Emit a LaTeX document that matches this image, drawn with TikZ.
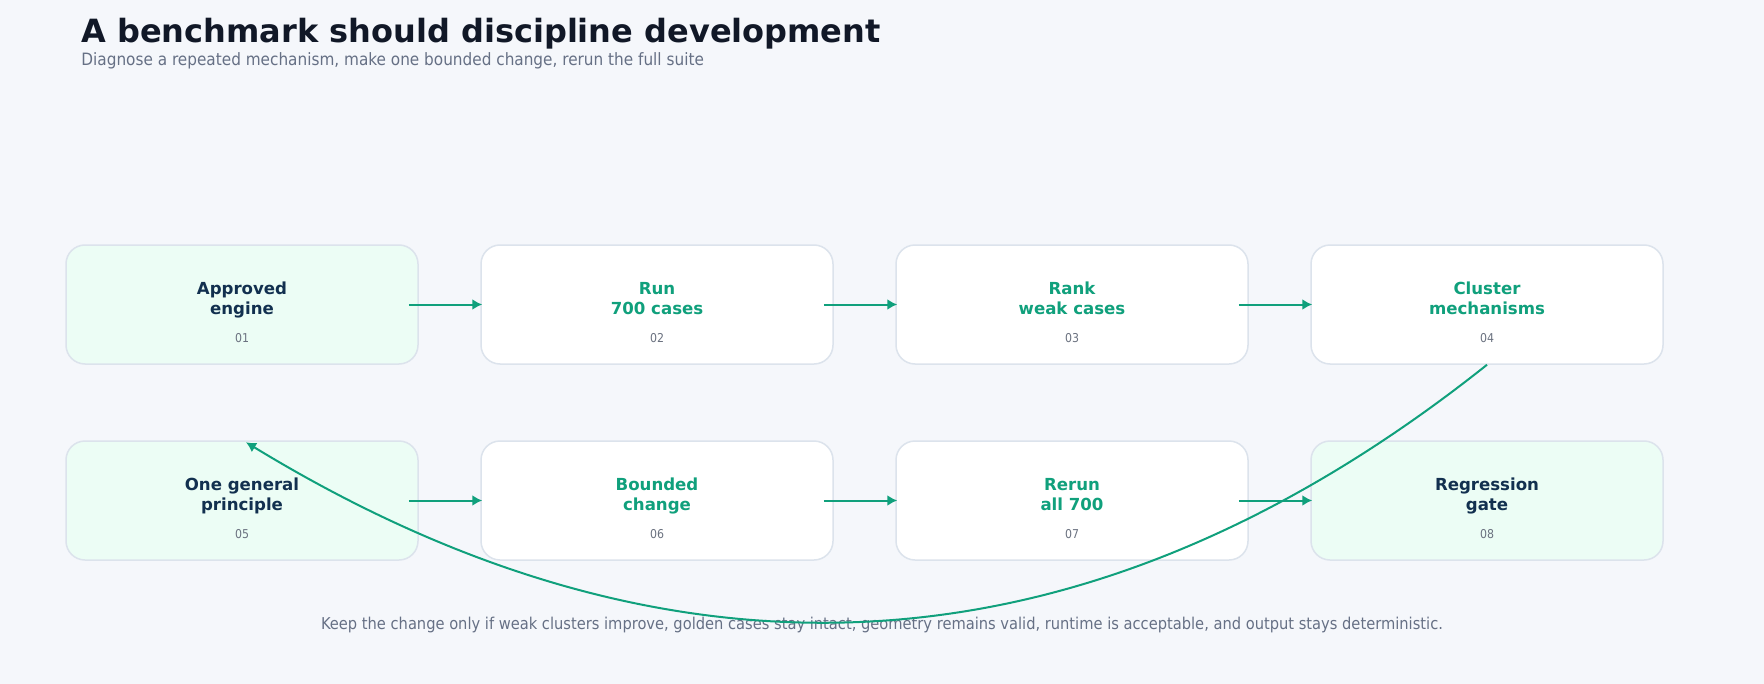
\documentclass[tikz,border=0pt]{standalone}
\usepackage{fontspec}
\setmainfont{DejaVu Sans}
\newfontfamily\condfont{DejaVu Sans Condensed}
\usetikzlibrary{arrows.meta,calc}
\definecolor{bgc}{HTML}{F5F7FB}
\definecolor{bordc}{HTML}{DCE3EC}
\definecolor{mintc}{HTML}{ECFDF5}
\definecolor{greenc}{HTML}{10A07C}
\definecolor{navyc}{HTML}{12304F}
\definecolor{titlec}{HTML}{111827}
\definecolor{subc}{HTML}{667085}
\definecolor{numc}{HTML}{6B7280}
\tikzset{
  stepbox/.style={draw=bordc, line width=0.75pt, rounded corners=9.5pt, minimum width=176pt, minimum height=59.5pt, inner sep=0pt},
  plainbox/.style={stepbox, fill=white},
  mintbox/.style={stepbox, fill=mintc},
  lbl/.style={anchor=base, inner sep=0pt, font=\fontsize{8.3}{10}\selectfont\bfseries},
  numlbl/.style={anchor=base, inner sep=0pt, font=\condfont\fontsize{6.1}{7}\selectfont, text=numc},
  arr/.style={draw=greenc, line width=1pt, -{Latex[length=5pt,width=5.5pt]}},
}
\newcommand{\mkstep}[8]{%
  \node[#7] (#1) at (#2,#3) {};
  \node[lbl, text=#8] (#1a) at ($(#1.center)+(0,-10)$) {#4};
  \node[lbl, text=#8] (#1b) at ($(#1.center)+(0,9.5)$) {#5};
  \node[numlbl] (#1n) at ($(#1.center)+(0,37.5)$) {#6};
}
\begin{document}
\begin{tikzpicture}[x=0.5pt,y=-0.5pt]
\fill[bgc] (0,0) rectangle (1764,684);
\useasboundingbox (0,0) rectangle (1764,684);
\node[anchor=base west, inner sep=0pt, text=titlec, font=\fontsize{16}{19}\selectfont\bfseries] (title) at (81,43) {A benchmark should discipline development};
\node[anchor=base west, inner sep=0pt, text=subc, font=\condfont\fontsize{8.5}{10}\selectfont] (subtitle) at (81,66) {Diagnose a repeated mechanism, make one bounded change, rerun the full suite};
\mkstep{s1}{242}{304.5}{Approved}{engine}{01}{mintbox}{navyc}
\mkstep{s2}{657}{304.5}{Run}{700 cases}{02}{plainbox}{greenc}
\mkstep{s3}{1072}{304.5}{Rank}{weak cases}{03}{plainbox}{greenc}
\mkstep{s4}{1487}{304.5}{Cluster}{mechanisms}{04}{plainbox}{greenc}
\mkstep{s5}{242}{500.5}{One general}{principle}{05}{mintbox}{navyc}
\mkstep{s6}{657}{500.5}{Bounded}{change}{06}{plainbox}{greenc}
\mkstep{s7}{1072}{500.5}{Rerun}{all 700}{07}{plainbox}{greenc}
\mkstep{s8}{1487}{500.5}{Regression}{gate}{08}{mintbox}{navyc}
\draw[arr] ([xshift=-5pt]s1.east) -- ([xshift=1pt]s2.west);
\draw[arr] ([xshift=-5pt]s2.east) -- ([xshift=1pt]s3.west);
\draw[arr] ([xshift=-5pt]s3.east) -- ([xshift=1pt]s4.west);
\draw[arr] ([xshift=-5pt]s5.east) -- ([xshift=1pt]s6.west);
\draw[arr] ([xshift=-5pt]s6.east) -- ([xshift=1pt]s7.west);
\draw[arr] ([xshift=-5pt]s7.east) -- ([xshift=1pt]s8.west);
\node[anchor=base, inner sep=0pt, text=subc, font=\condfont\fontsize{8.15}{10}\selectfont] (note) at (882,629.5) {Keep the change only if weak clusters improve, golden cases stay intact, geometry remains valid, runtime is acceptable, and output stays deterministic.};
\draw[arr] (s4.south) .. controls (1091.7,679.3) and (678,705.7) .. ([xshift=2pt,yshift=-1pt]s5.north);
\end{tikzpicture}
\end{document}
